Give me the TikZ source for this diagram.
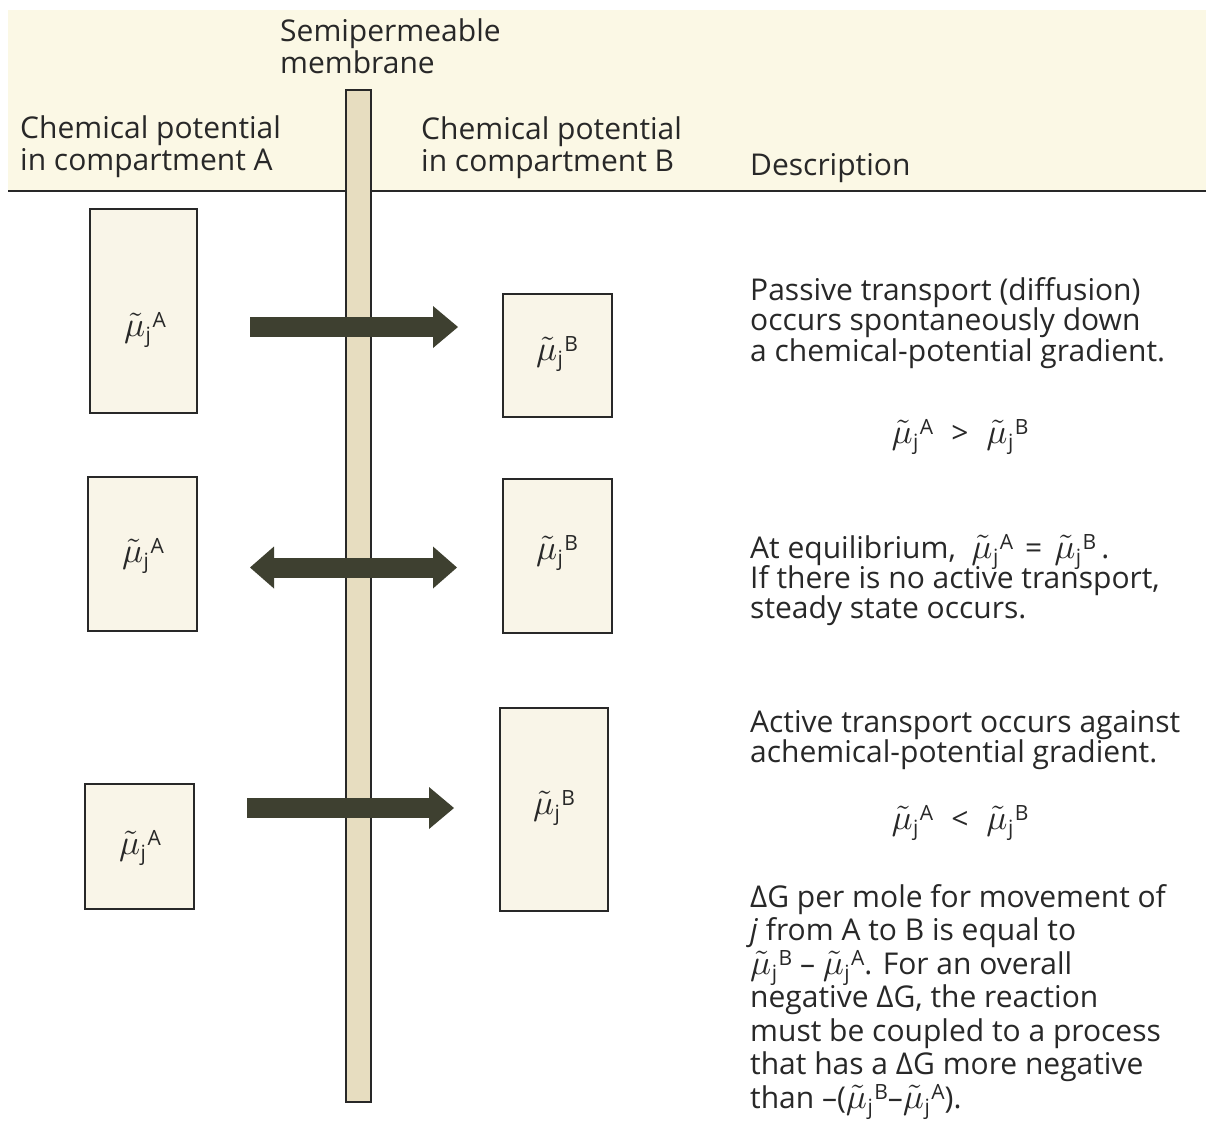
\documentclass[tikz,border=0pt]{standalone}
\usepackage{fontspec}
\setmainfont{Open Sans}
\DeclareFontShape{OML}{cmm}{m}{it}{<->cmmi10}{}
\DeclareFontShape{OT1}{cmr}{m}{n}{<->cmr10}{}
\usetikzlibrary{arrows.meta}
\definecolor{headbg}{RGB}{251,248,229}
\definecolor{boxbg}{RGB}{249,245,232}
\definecolor{membfill}{RGB}{231,221,192}
\definecolor{arrowcol}{RGB}{62,64,48}
\definecolor{inkcol}{RGB}{40,40,40}
\newcommand\fsz[1]{\fontsize{30}{#1}\selectfont\lineskiplimit=-100pt\relax}
\newcommand\mjx[1]{\mbox{\fontsize{35}{35}\selectfont$\tilde{\mu}$\kern0.5pt\raisebox{-6pt}{\fontsize{21}{21}\selectfont j}\kern1.5pt\raisebox{9pt}{\fontsize{21}{21}\selectfont #1}}}
\tikzset{
  cbox/.style={draw=inkcol, line width=1.5pt, fill=boxbg, inner sep=0pt},
  membrane/.style={draw=inkcol, line width=1.5pt, fill=membfill, inner sep=0pt},
  txt/.style={anchor=base west, align=left, inner sep=0pt, font=\fsz{32}, text=inkcol},
  eqn/.style={anchor=center, inner sep=0pt, font=\fsz{32}, text=inkcol},
  lbl/.style={anchor=center, inner sep=0pt, font=\fsz{32}, text=inkcol},
  fatarrow/.style={draw=arrowcol, line width=20pt, line cap=butt,
     -{Triangle[length=25pt,width=42pt,line width=0pt]}},
  fatdouble/.style={draw=arrowcol, line width=20pt, line cap=butt,
     {Triangle[length=24pt,width=42pt,line width=0pt]}-{Triangle[length=24pt,width=42pt,line width=0pt]}}
}
\begin{document}
\begin{tikzpicture}[x=1pt,y=-1pt]
\useasboundingbox (0,0) rectangle (1206,1144);
\fill[white] (0,0) rectangle (1206,1144);
\fill[headbg] (8,10) rectangle (1206,190);
\draw[inkcol, line width=1.8pt] (8,191) -- (1206,191);

% boxes
\node[cbox, minimum width=107, minimum height=204] (boxA1) at (143.5,311) {};
\node[cbox, minimum width=109, minimum height=123] (boxB1) at (557.5,355.5) {};
\node[cbox, minimum width=109, minimum height=154] (boxA2) at (142.5,554) {};
\node[cbox, minimum width=109, minimum height=154] (boxB2) at (557.5,556) {};
\node[cbox, minimum width=109, minimum height=125] (boxA3) at (139.5,846.5) {};
\node[cbox, minimum width=108, minimum height=203] (boxB3) at (554,809.5) {};

\node[lbl] (lA1) at (145,330) {\mjx{A}};
\node[lbl] (lB1) at (557,354) {\mjx{B}};
\node[lbl] (lA2) at (143,556) {\mjx{A}};
\node[lbl] (lB2) at (557,553) {\mjx{B}};
\node[lbl] (lA3) at (140,848) {\mjx{A}};
\node[lbl] (lB3) at (554,808) {\mjx{B}};

% membrane
\node[membrane, minimum width=25, minimum height=1012] (memb) at (358.5,596) {};

% arrows
\coordinate (a1s) at (250,327);
\coordinate (a1e) at (458,327);
\coordinate (a2s) at (250,567.5);
\coordinate (a2e) at (457,567.5);
\coordinate (a3s) at (247,808);
\coordinate (a3e) at (454,808);
\draw[fatarrow] (a1s) -- (a1e);
\draw[fatdouble] (a2s) -- (a2e);
\draw[fatarrow] (a3s) -- (a3e);

% header texts (anchor = baseline of last line)
\node[txt] (semi) at (280,73) {Semipermeable\\membrane};
\node[txt] (hA) at (20,170) {Chemical potential\\in compartment A};
\node[txt] (hB) at (421,171) {Chemical potential\\in compartment B};
\node[txt] (hD) at (750,175) {Description};

% descriptions
\node[txt, font=\fsz{30.5}] (d1) at (750,361) {Passive transport (diffusion)\\occurs spontaneously down\\a chemical-potential gradient.};
\node[eqn] (e1) at (960,437) {\mjx{A}\hspace{18pt}>\hspace{18pt}\mjx{B}};
\node[txt, font=\fsz{30}] (d2) at (750,618) {At equilibrium, \ \mjx{A}\hspace{12pt}=\hspace{12pt}\mjx{B}\,.\\If there is no active transport,\\steady state occurs.};
\node[txt, font=\fsz{30}] (d3) at (750,762) {Active transport occurs against\\achemical-potential gradient.};
\node[eqn] (e3) at (960,823) {\mjx{A}\hspace{18pt}<\hspace{18pt}\mjx{B}};
\node[txt, font=\fsz{33.5}] (d4) at (750,1108) {ΔG per mole for movement of\\\textit{j} from A to B is equal to\\\mjx{B} – \mjx{A}. For an overall\\negative ΔG, the reaction\\must be coupled to a process\\that has a ΔG more negative\\than –(\mjx{B}–\mjx{A}).};
\end{tikzpicture}
\end{document}
